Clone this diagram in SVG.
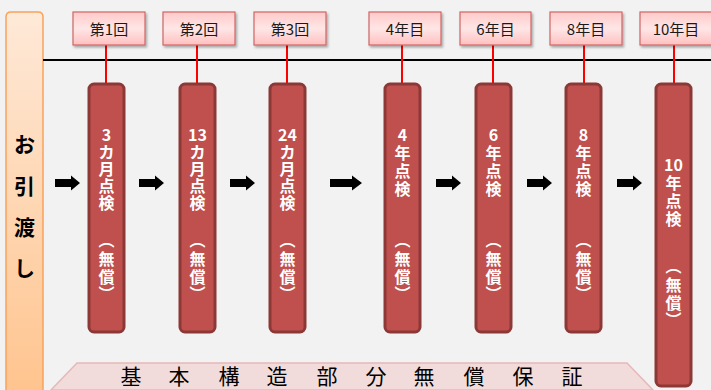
<svg xmlns="http://www.w3.org/2000/svg" width="711" height="390" viewBox="0 0 711 390">
<defs>
<linearGradient id="gLeft" x1="0" y1="0" x2="0" y2="1">
<stop offset="0" stop-color="#fee9d8"/>
<stop offset="1" stop-color="#ffc48e"/>
</linearGradient>
<linearGradient id="gLabel" x1="0" y1="0" x2="0" y2="1">
<stop offset="0" stop-color="#ffc9c9"/>
<stop offset="0.5" stop-color="#ffe6e6"/>
<stop offset="1" stop-color="#ffc0c0"/>
</linearGradient>
<filter id="sh" x="-10%" y="-10%" width="130%" height="140%">
<feDropShadow dx="1.5" dy="2" stdDeviation="1.2" flood-color="#000" flood-opacity="0.3"/>
</filter>
<path id="arrow" d="M0,-4 H16 V-7.5 L25,0 L16,7.5 V4 H0 Z" fill="#000"/>
</defs>
<style>
.lbl{fill:url(#gLabel);stroke:#d06565;stroke-width:1.2;filter:url(#sh)}
.lt{font-family:"Noto Sans CJK JP","Liberation Sans",sans-serif;font-size:15px;fill:#1a1a1a;text-anchor:middle;dominant-baseline:central}
.pil{fill:#c0504d;stroke:#8c3836;stroke-width:3}
.pt{font-family:"Noto Sans CJK JP","Liberation Sans",sans-serif;font-size:16px;font-weight:bold;fill:#fff;text-anchor:middle;dominant-baseline:central}
.pv{font-family:"Noto Sans CJK JP","Liberation Sans",sans-serif;font-size:16px;font-weight:bold;fill:#fff;writing-mode:vertical-rl;text-anchor:start}
.lk{stroke:#ff0000;stroke-width:2}
.big{font-family:"Noto Sans CJK JP","Liberation Sans",sans-serif;font-size:21px;font-weight:bold;fill:#000;text-anchor:middle;dominant-baseline:central}
.band{font-family:"Noto Sans CJK JP","Liberation Sans",sans-serif;font-size:21px;fill:#000;text-anchor:middle;dominant-baseline:central}
</style>
<rect width="711" height="390" fill="#f2f2f2"/>
<g id="handover">
<path d="M6,395 V17 Q6,12 11,12 H38 Q43,12 43,17 V395 Z" fill="url(#gLeft)" stroke="#f9a35c" stroke-width="1.5"/>
<text class="big" x="24.5" y="143">お</text>
<text class="big" x="24.5" y="185">引</text>
<text class="big" x="24.5" y="226">渡</text>
<text class="big" x="24.5" y="267">し</text>
</g>
<g id="guarantee">
<polygon points="77,363 627,363 653,390 51,390" fill="#f2dcdb" stroke="#e6b8b7" stroke-width="1.5"/>
<text class="band" x="131" y="375">基</text>
<text class="band" x="179" y="375">本</text>
<text class="band" x="229" y="375">構</text>
<text class="band" x="277" y="375">造</text>
<text class="band" x="327" y="375">部</text>
<text class="band" x="376" y="375">分</text>
<text class="band" x="424" y="375">無</text>
<text class="band" x="474" y="375">償</text>
<text class="band" x="523" y="375">保</text>
<text class="band" x="572" y="375">証</text>
</g>
<g id="connectors">
<line x1="43" y1="60" x2="711" y2="60" stroke="#000" stroke-width="2"/>
<line class="lk" x1="106" y1="45" x2="106" y2="84"/>
<line class="lk" x1="197" y1="45" x2="197" y2="84"/>
<line class="lk" x1="287" y1="45" x2="287" y2="84"/>
<line class="lk" x1="402" y1="45" x2="402" y2="84"/>
<line class="lk" x1="493" y1="45" x2="493" y2="84"/>
<line class="lk" x1="584" y1="45" x2="584" y2="84"/>
<line class="lk" x1="674" y1="45" x2="674" y2="84"/>
<use href="#arrow" x="55" y="183"/>
<use href="#arrow" x="139" y="183"/>
<use href="#arrow" x="230" y="183"/>
<path d="M330,179 H352 V175.5 L362,183 L352,190.5 V187 H330 Z" fill="#000"/>
<use href="#arrow" x="436" y="183"/>
<use href="#arrow" x="527" y="183"/>
<use href="#arrow" x="617" y="183"/>
</g>
<g id="label1"><rect class="lbl" x="73" y="12" width="72" height="33"/><text class="lt" x="109" y="28.5">第1回</text></g>
<g id="label2"><rect class="lbl" x="163" y="12" width="72" height="33"/><text class="lt" x="199" y="28.5">第2回</text></g>
<g id="label3"><rect class="lbl" x="254" y="12" width="72" height="33"/><text class="lt" x="290" y="28.5">第3回</text></g>
<g id="label4"><rect class="lbl" x="369" y="12" width="72" height="33"/><text class="lt" x="405" y="28.5">4年目</text></g>
<g id="label5"><rect class="lbl" x="460" y="12" width="71" height="33"/><text class="lt" x="495.5" y="28.5">6年目</text></g>
<g id="label6"><rect class="lbl" x="550" y="12" width="72" height="33"/><text class="lt" x="586" y="28.5">8年目</text></g>
<g id="label7"><rect class="lbl" x="640" y="12" width="72" height="33"/><text class="lt" x="676" y="28.5">10年目</text></g>
<g id="pillar1"><rect class="pil" x="89" y="84" width="35" height="248" rx="5"/>
<text class="pt" x="106.5" y="134">3</text><text class="pt" x="106.5" y="151">カ</text><text class="pt" x="106.5" y="168">月</text><text class="pt" x="106.5" y="185">点</text><text class="pt" x="106.5" y="202">検</text>
<text class="pv" x="106.5" y="232">（</text><text class="pt" x="106.5" y="258">無</text><text class="pt" x="106.5" y="276">償</text><text class="pv" x="106.5" y="286">）</text></g>
<g id="pillar2"><rect class="pil" x="180" y="84" width="35" height="248" rx="5"/>
<text class="pt" x="197.5" y="134">13</text><text class="pt" x="197.5" y="151">カ</text><text class="pt" x="197.5" y="168">月</text><text class="pt" x="197.5" y="185">点</text><text class="pt" x="197.5" y="202">検</text>
<text class="pv" x="197.5" y="232">（</text><text class="pt" x="197.5" y="258">無</text><text class="pt" x="197.5" y="276">償</text><text class="pv" x="197.5" y="286">）</text></g>
<g id="pillar3"><rect class="pil" x="270" y="84" width="35" height="248" rx="5"/>
<text class="pt" x="287.5" y="134">24</text><text class="pt" x="287.5" y="151">カ</text><text class="pt" x="287.5" y="168">月</text><text class="pt" x="287.5" y="185">点</text><text class="pt" x="287.5" y="202">検</text>
<text class="pv" x="287.5" y="232">（</text><text class="pt" x="287.5" y="258">無</text><text class="pt" x="287.5" y="276">償</text><text class="pv" x="287.5" y="286">）</text></g>
<g id="pillar4"><rect class="pil" x="385" y="84" width="35" height="248" rx="5"/>
<text class="pt" x="402.5" y="134">4</text><text class="pt" x="402.5" y="152">年</text><text class="pt" x="402.5" y="170">点</text><text class="pt" x="402.5" y="188">検</text>
<text class="pv" x="402.5" y="232">（</text><text class="pt" x="402.5" y="258">無</text><text class="pt" x="402.5" y="276">償</text><text class="pv" x="402.5" y="286">）</text></g>
<g id="pillar5"><rect class="pil" x="476" y="84" width="35" height="248" rx="5"/>
<text class="pt" x="493.5" y="134">6</text><text class="pt" x="493.5" y="152">年</text><text class="pt" x="493.5" y="170">点</text><text class="pt" x="493.5" y="188">検</text>
<text class="pv" x="493.5" y="232">（</text><text class="pt" x="493.5" y="258">無</text><text class="pt" x="493.5" y="276">償</text><text class="pv" x="493.5" y="286">）</text></g>
<g id="pillar6"><rect class="pil" x="566" y="84" width="35" height="248" rx="5"/>
<text class="pt" x="583.5" y="134">8</text><text class="pt" x="583.5" y="152">年</text><text class="pt" x="583.5" y="170">点</text><text class="pt" x="583.5" y="188">検</text>
<text class="pv" x="583.5" y="232">（</text><text class="pt" x="583.5" y="258">無</text><text class="pt" x="583.5" y="276">償</text><text class="pv" x="583.5" y="286">）</text></g>
<g id="pillar7"><rect class="pil" x="656" y="84" width="35" height="302" rx="5"/>
<text class="pt" x="673.5" y="164">10</text><text class="pt" x="673.5" y="182">年</text><text class="pt" x="673.5" y="200">点</text><text class="pt" x="673.5" y="218">検</text>
<text class="pv" x="673.5" y="258">（</text><text class="pt" x="673.5" y="284">無</text><text class="pt" x="673.5" y="302">償</text><text class="pv" x="673.5" y="312">）</text></g>
</svg>
